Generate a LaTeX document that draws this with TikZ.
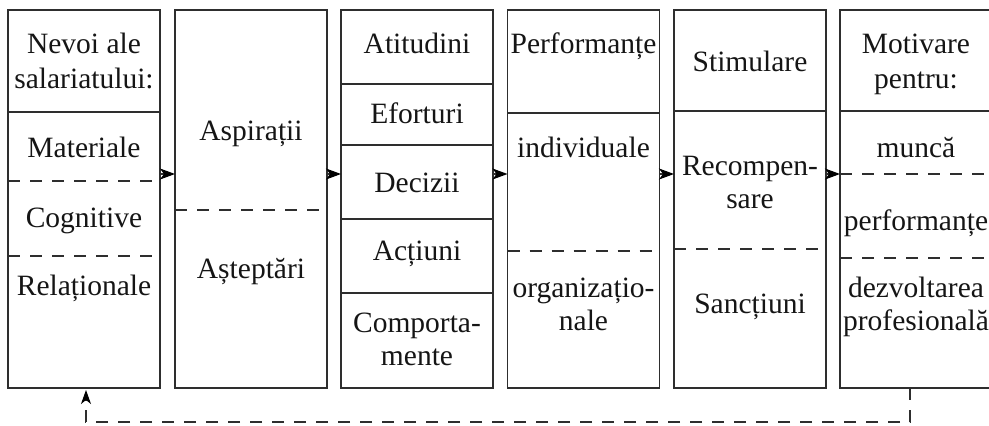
\documentclass[tikz,border=0pt]{standalone}
\usepackage{fontspec}
\setmainfont{Liberation Serif}
\usetikzlibrary{arrows.meta}
\definecolor{ink}{HTML}{2E2E2E}
\definecolor{txt}{HTML}{151515}
\begin{document}
\begin{tikzpicture}[x=1pt,y=-1pt,
  box/.style={draw=ink,line width=1.2pt,minimum width=152pt,minimum height=378pt,inner sep=0pt,outer sep=0pt},
  solidsep/.style={draw=ink,line width=1.1pt},
  dashsep/.style={draw=ink,line width=1.1pt,dash pattern=on 12pt off 10pt},
  flow/.style={draw=ink,line width=1.1pt,-{Stealth[length=15pt,width=11pt,inset=4pt,color=black]}},
  back/.style={draw=ink,line width=1.1pt,dash pattern=on 12pt off 10pt,-{Stealth[length=14pt,width=10pt,inset=4pt,color=black]}},
  lbl/.style={anchor=base,inner sep=0pt,text=txt,font=\fontsize{29.5}{34}\selectfont}]
\useasboundingbox (0,0) rectangle (989,426);

% the six stages
\node[box] (b1) at (84,199) {};
\node[box] (b2) at (251,199) {};
\node[box] (b3) at (417,199) {};
\node[box] (b4) at (583.5,199) {};
\node[box] (b5) at (750,199) {};
\node[box] (b6) at (916,199) {};

% row separators inside the boxes
\foreach \b/\y in {b1/112, b3/84, b3/145, b3/219, b3/293, b4/113, b5/111, b6/111}
  \draw[solidsep] (\b.west |- 0,\y) -- (\b.east |- 0,\y);
\foreach \b/\y in {b1/181, b1/256, b2/210, b4/251, b5/249, b6/174, b6/258}
  \draw[dashsep] (\b.west |- 0,\y) -- (\b.east |- 0,\y);

% labels
\node[lbl] (t1a) at (84,53) {Nevoi ale};
\node[lbl] (t1b) at (84,88) {salariatului:};
\node[lbl] (t1c) at (84,157) {Materiale};
\node[lbl] (t1d) at (84,227) {Cognitive};
\node[lbl] (t1e) at (84,295) {Relaționale};

\node[lbl] (t2a) at (251,140) {Aspirații};
\node[lbl] (t2b) at (251,278) {Așteptări};

\node[lbl] (t3a) at (417,53) {Atitudini};
\node[lbl] (t3b) at (417,123) {Eforturi};
\node[lbl] (t3c) at (417,192) {Decizii};
\node[lbl] (t3d) at (417,260) {Acțiuni};
\node[lbl] (t3e) at (417,332) {Comporta-};
\node[lbl] (t3f) at (417,365) {mente};

\node[lbl] (t4a) at (583.5,53) {Performanțe};
\node[lbl] (t4b) at (583.5,157) {individuale};
\node[lbl] (t4c) at (583.5,297) {organizațio-};
\node[lbl] (t4d) at (583.5,330) {nale};

\node[lbl] (t5a) at (750,71) {Stimulare};
\node[lbl] (t5b) at (750,175) {Recompen-};
\node[lbl] (t5c) at (750,208) {sare};
\node[lbl] (t5d) at (750,313) {Sancțiuni};

\node[lbl] (t6a) at (916,53) {Motivare};
\node[lbl] (t6b) at (916,88) {pentru:};
\node[lbl] (t6c) at (916,157) {muncă};
\node[lbl] (t6d) at (916,230) {performanțe};
\node[lbl] (t6e) at (916,297) {dezvoltarea};
\node[lbl] (t6f) at (916,330) {profesională};

% forward flow between stages
\coordinate (ay) at (0,174);
\foreach \a/\b in {b1/b2, b2/b3, b3/b4, b4/b5, b5/b6}
  \draw[flow] (\a.east |- ay) -- (\b.west |- ay);

% feedback loop back to the needs
\coordinate (fr) at (910,422);
\coordinate (fl) at (86,422);
\draw[back,shorten >=2pt] (b6.south -| fr) -- (fr) -- (fl) -- (b1.south -| fl);
\end{tikzpicture}
\end{document}
